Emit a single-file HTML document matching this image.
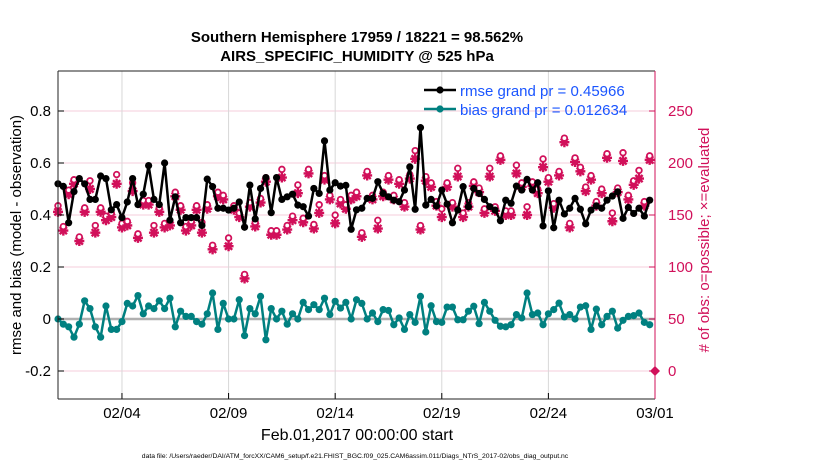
<!DOCTYPE html>
<html><head><meta charset="utf-8"><style>
body{margin:0;background:#fff;}
svg{display:block;font-family:"Liberation Sans",Arial,sans-serif;}
</style></head><body>
<svg id="chart" width="830" height="470" viewBox="0 0 830 470" xmlns="http://www.w3.org/2000/svg">
<rect width="830" height="470" fill="#fff"/>
<g id="grid"></g>
<g id="series"></g>
<g id="axes"></g>
<text x="357" y="42" text-anchor="middle" font-size="15" font-weight="bold">Southern Hemisphere 17959 / 18221 = 98.562%</text>
<text x="357" y="61" text-anchor="middle" font-size="15" font-weight="bold">AIRS_SPECIFIC_HUMIDITY @ 525 hPa</text>
<text transform="translate(21,235) rotate(-90)" text-anchor="middle" font-size="15">rmse and bias (model - observation)</text>
<text transform="translate(709,240) rotate(-90)" text-anchor="middle" font-size="15" fill="#d1105a"># of obs: o=possible; ×=evaluated</text>
<text x="357" y="440" text-anchor="middle" font-size="16">Feb.01,2017 00:00:00 start</text>
<text x="355" y="458" text-anchor="middle" font-size="6.8">data file: /Users/raeder/DAI/ATM_forcXX/CAM6_setup/f.e21.FHIST_BGC.f09_025.CAM6assim.011/Diags_NTrS_2017-02/obs_diag_output.nc</text>
<g id="legend">
  <line x1="424" y1="90" x2="456" y2="90" stroke="#000" stroke-width="2.5"/>
  <circle cx="440" cy="90" r="3.6" fill="#000"/>
  <text x="460" y="96" font-size="15" fill="#1a55ff">rmse grand pr = 0.45966</text>
  <line x1="424" y1="109" x2="456" y2="109" stroke="#008080" stroke-width="2.5"/>
  <circle cx="440" cy="109" r="3.6" fill="#008080"/>
  <text x="460" y="115" font-size="15" fill="#1a55ff">bias grand pr = 0.012634</text>
</g>
</svg>
<script>
const xTickLabels = ["02/04","02/09","02/14","02/19","02/24","03/01"];
const xTickDays = [3,8,13,18,23,28];
const yTicks = [-0.2,0,0.2,0.4,0.6,0.8];
const y2Ticks = [0,50,100,150,200,250];
const rmse = [0.52,0.51,0.37,0.49,0.54,0.52,0.46,0.46,0.55,0.54,0.42,0.44,0.39,0.45,0.54,0.44,0.48,0.59,0.46,0.44,0.60,0.38,0.47,0.37,0.39,0.39,0.39,0.36,
0.538,0.509,0.426,0.426,0.419,0.426,0.45,0.353,0.515,0.385,0.502,0.544,0.409,0.544,0.46,0.47,0.48,0.438,0.432,0.396,0.502,0.483,0.685,0.496,0.524,0.511,0.514,0.345,0.42,
0.426,0.464,0.464,0.528,0.483,0.47,0.457,0.451,0.496,0.585,0.422,0.736,0.438,0.46,0.435,0.496,0.442,0.37,0.419,0.509,0.432,0.502,0.483,0.46,0.432,0.419,0.378,
0.457,0.445,0.511,0.496,0.537,0.496,0.524,0.358,0.493,0.351,0.457,0.404,0.426,0.464,0.422,0.366,0.419,0.435,0.426,0.457,0.473,0.489,0.387,0.429,0.406,0.426,0.396,0.457];
const bias = [0,-0.02,-0.03,-0.07,-0.02,0.07,0.04,-0.03,-0.07,0.05,-0.04,-0.04,-0.01,0.06,0.05,0.09,0.02,0.05,0.04,0.07,0.04,0.08,-0.03,0.03,0.01,0.01,-0.01,-0.02,
0.02,0.1,-0.04,0.06,0.0,0.0,0.074,-0.064,0.04,0.02,0.087,-0.08,0.04,0.0,0.03,-0.02,0.02,0.0,0.064,0.036,0.055,0.036,0.08,0.017,0.068,0.042,0.064,0.0,0.074,
0.06,0.0,0.023,-0.01,0.036,0.033,-0.022,0.004,-0.04,0.017,-0.013,0.087,-0.05,0.051,-0.01,-0.013,0.046,0.046,-0.003,-0.003,0.03,0.049,-0.018,0.064,0.03,-0.005,-0.028,
-0.03,-0.022,0.017,0.004,0.1,0.017,0.023,-0.022,0.02,0.036,0.061,0.008,0.017,0.0,0.046,0.051,-0.04,0.038,-0.022,0.01,0.03,-0.035,-0.005,0.01,0.013,0.023,-0.013,-0.022];
const nEvaluated = [153,135,170,180,125,153,175,133,153,145,148,180,138,140,173,128,160,160,133,153,138,140,168,155,135,140,155,133,
156,117,168,165,120,155,148,89,158,139,162,182,131,131,186,136,145,171,143,190,137,152,184,165,142,161,156,165,168,
129,188,165,137,168,184,165,180,158,185,204,136,183,177,159,148,177,158,187,148,158,178,172,152,187,154,203,150,
150,190,177,150,178,171,196,182,157,188,220,138,201,192,173,184,159,171,205,144,172,202,165,179,185,159,203];
const nPossible = [156,136,171,181,126,154,180,137,154,146,149,186,139,141,178,129,161,161,137,154,139,141,169,156,136,141,156,140,
157,118,169,166,125,156,149,90,159,140,163,183,132,132,191,137,146,176,144,191,138,157,185,166,147,162,157,166,169,
130,189,166,142,169,185,166,181,159,186,209,137,184,178,160,153,178,159,192,149,159,179,173,153,192,155,204,151,
151,195,178,155,179,172,201,183,158,189,221,139,202,193,174,185,160,172,206,149,173,207,166,180,190,160,204];
const lastDayObs = [0];

const L=58,R=655,T=71,B=399,Y0=319,PXU=260;
const xs = d => L + d*(R-L)/28;
const ys = v => Y0 - v*PXU;
const ys2 = c => ys(c/250 - 0.2);
const NS="http://www.w3.org/2000/svg";
function mk(tag, attrs, parent){const e=document.createElementNS(NS,tag);for(const k in attrs)e.setAttribute(k,attrs[k]);parent.appendChild(e);return e;}
const grid=document.getElementById('grid'), ser=document.getElementById('series'), ax=document.getElementById('axes');
const PINK="#d1105a";

yTicks.forEach(v=>{
  const g=mk('line',{x1:L,x2:R,y1:ys(v),y2:ys(v),stroke:'#f6cddb','stroke-width':1},grid);
  
  
  const t=mk('text',{x:L-7,y:ys(v)+5,'text-anchor':'end','font-size':15},ax);
  t.textContent = v===0?'0':v.toFixed(1);
  
  
  mk('line',{x1:L,x2:L+6,y1:ys(v),y2:ys(v),stroke:'#000'},ax);
});
y2Ticks.forEach(c=>{
  const t=mk('text',{x:R+13,y:ys2(c)+5,'font-size':15,fill:PINK},ax);
  t.textContent=c;
  
  
  mk('line',{x1:R-6,x2:R,y1:ys2(c),y2:ys2(c),stroke:PINK},ax);
});
xTickDays.forEach((d,i)=>{
  const g=mk('line',{x1:xs(d),x2:xs(d),y1:T,y2:B,stroke:'#d8d8d8','stroke-width':1},grid);
  
  
  mk('line',{x1:xs(d),x2:xs(d),y1:B,y2:B-6,stroke:'#000'},ax);
  const t=mk('text',{x:xs(d),y:418,'text-anchor':'middle','font-size':15},ax);
  t.textContent=xTickLabels[i];
  
  
});
mk('line',{x1:L,x2:R,y1:ys(0),y2:ys(0),stroke:'#b0b0b0','stroke-width':2.5},grid);
mk('line',{x1:L,x2:R,y1:T,y2:T,stroke:'#222'},ax);
mk('line',{x1:L,x2:R,y1:B,y2:B,stroke:'#222'},ax);
mk('line',{x1:L,x2:L,y1:T,y2:B,stroke:'#222'},ax);
mk('line',{x1:R,x2:R,y1:T,y2:B,stroke:PINK},ax);

const dx = 0.25;
nEvaluated.forEach((c,i)=>{
  const x=xs(i*dx);
  const cp=nPossible[i], yp=ys2(cp), ye=ys2(c);
  const s=mk('path',{d:`M${x-5},${ye}h10M${x},${ye-5}v10M${x-3.6},${ye-3.6}l7.2,7.2M${x+3.6},${ye-3.6}l-7.2,7.2`,stroke:PINK,'stroke-width':2.4},ser);
  
  
  mk('circle',{cx:x,cy:ye,r:3,fill:PINK},ser);
  const o=mk('circle',{cx:x,cy:yp-3,r:2.8,fill:'#fff',stroke:PINK,'stroke-width':1.8},ser);
  
  
});
lastDayObs.forEach(c=>{
  const p=mk('path',{d:`M${R-5},${ys2(c)}l5,-5l5,5l-5,5z`,fill:PINK},ser);
  
  
});
function line(arr,color,name){
  const pts=arr.map((v,i)=>xs(i*dx)+','+ys(v)).join(' ');
  const pl=mk('polyline',{points:pts,fill:'none',stroke:color,'stroke-width':2.5,'stroke-linejoin':'round'},ser);
  
  
  arr.forEach((v,i)=>{
    const c=mk('circle',{cx:xs(i*dx),cy:ys(v),r:3.6,fill:color},ser);
    
    
  });
}
line(bias,'#008080','bias');
line(rmse,'#000000','rmse');
</script>
</body></html>
